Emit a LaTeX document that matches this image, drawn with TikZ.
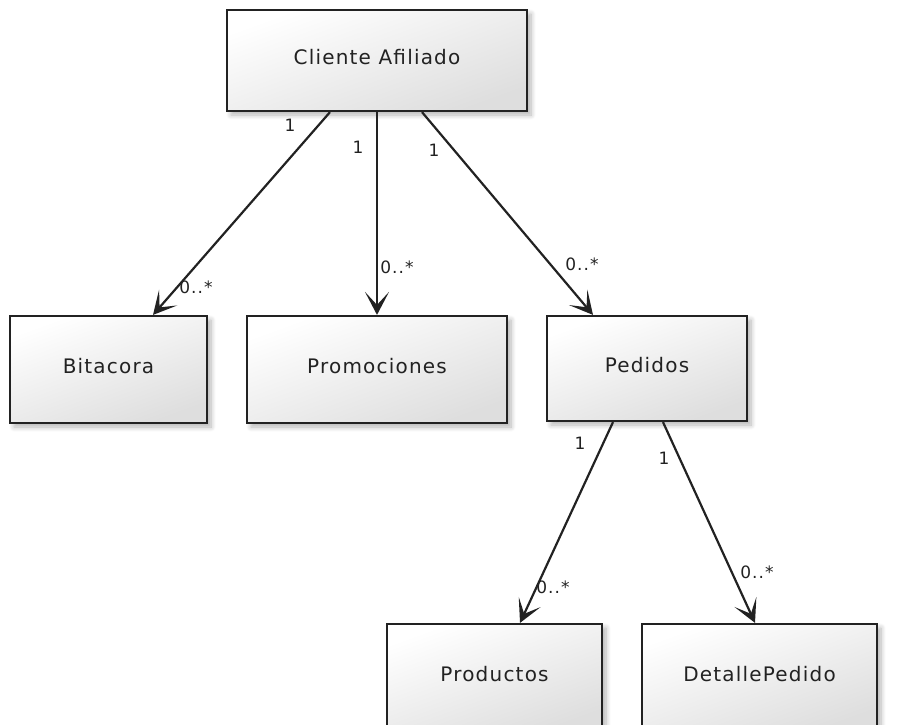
\documentclass[tikz,border=0pt]{standalone}
\usepackage{fontspec}
\setmainfont{DejaVu Sans}[LetterSpace=6.0]
\usetikzlibrary{arrows.meta,shadows.blur}
\definecolor{ink}{HTML}{222222}
\tikzset{
  entity/.style={draw=ink, line width=2.2pt, top color=white, bottom color=black!13,
    shading angle=20,
    blur shadow={shadow xshift=4pt, shadow yshift=-4pt, shadow blur steps=8, shadow blur radius=5pt, shadow opacity=30},
    text=ink, inner sep=0pt, text height=15pt, text depth=7pt,
    font=\fontsize{20}{24}\selectfont},
  assoc/.style={draw=ink, line width=2.2pt, -{Stealth[length=23pt,width=24pt,inset=13pt]}},
  mult/.style={text=ink, inner sep=0pt, font=\fontsize{17}{20}\selectfont}
}
\begin{document}
\begin{tikzpicture}[x=1pt, y=-1pt]
  \useasboundingbox (0,0) rectangle (909,724);
  \clip (0,0) rectangle (909,724);

  % classes
  \node[entity, minimum width=300pt, minimum height=101pt] (cli) at (377,60.5) {Cliente Afiliado};
  \node[entity, minimum width=197pt, minimum height=107pt] (bit) at (108.5,369.5) {Bitacora};
  \node[entity, minimum width=260pt, minimum height=107pt] (pro) at (377,369.5) {Promociones};
  \node[entity, minimum width=200pt, minimum height=105pt] (ped) at (647,368.5) {Pedidos};
  \node[entity, minimum width=215pt, minimum height=107pt] (prd) at (494.5,677.5) {Productos};
  \node[entity, minimum width=235pt, minimum height=107pt] (det) at (759.5,677.5) {DetallePedido};

  % associations
  \draw[assoc] ([xshift=-47pt]cli.south) -- ([xshift=44.5pt]bit.north);
  \draw[assoc] (cli.south) -- (pro.north);
  \draw[assoc] ([xshift=45pt]cli.south) -- ([xshift=-54pt]ped.north);
  \draw[assoc] ([xshift=-34pt]ped.south) -- ([xshift=25.5pt]prd.north);
  \draw[assoc] ([xshift=16pt]ped.south) -- ([xshift=-4.5pt]det.north);

  % multiplicities
  \node[mult] (m1a) at (290,125) {1};
  \node[mult] (m1b) at (196,287) {0..*};
  \node[mult] (m2a) at (358,147) {1};
  \node[mult] (m2b) at (397,267) {0..*};
  \node[mult] (m3a) at (434,150) {1};
  \node[mult] (m3b) at (582,264) {0..*};
  \node[mult] (m4a) at (580,443) {1};
  \node[mult] (m4b) at (553,587) {0..*};
  \node[mult] (m5a) at (664,458) {1};
  \node[mult] (m5b) at (757,572) {0..*};
\end{tikzpicture}
\end{document}
